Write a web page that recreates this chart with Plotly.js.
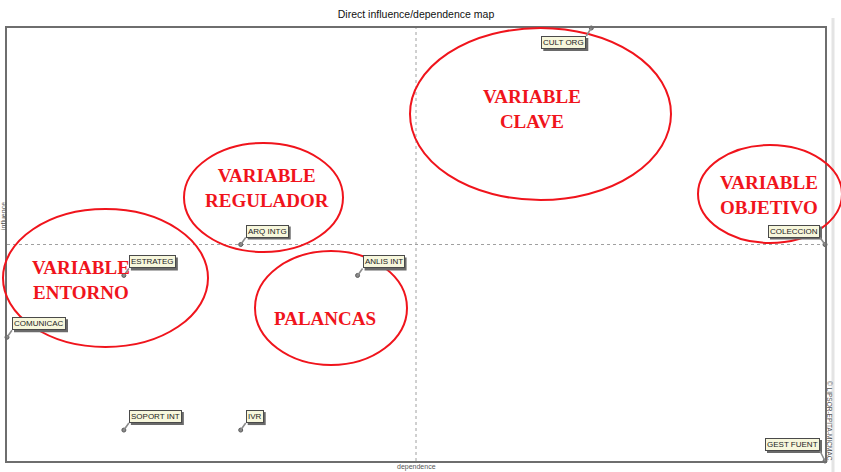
<!DOCTYPE html>
<html>
<head>
<meta charset="utf-8">
<script src="https://cdn.plot.ly/plotly-3.0.1.min.js"></script>
<style>html,body{margin:0;padding:0;background:#fff;}#chart{width:841px;height:472px;}</style>
</head>
<body>
<div id="chart"></div>
<script>
// Data (MICMAC direct influence/dependence map)
const variables  = ['CULT ORG','COLECCION','ARQ INTG','ESTRATEG','ANLIS INT','COMUNICAC','SOPORT INT','IVR','GEST FUENT'];
const dependence = [5, 7, 2, 1, 3, 0, 1, 2, 7];
const influence  = [14, 7, 7, 6, 6, 4, 1, 1, 0];
const zoneLabels = ['VARIABLE<br>CLAVE','VARIABLE<br>OBJETIVO','VARIABLE<br>REGULADOR','VARIABLE<br>ENTORNO','PALANCAS'];

const W = 841, H = 472;
const M = {l: 7, r: 16, t: 28, b: 11};
const PW = W - M.l - M.r, PH = H - M.t - M.b;
const px = v => (v - M.l) / PW;        // pixel -> paper x
const py = v => (H - M.b - v) / PH;    // pixel -> paper y

const xmin = Math.min(...dependence), xmax = Math.max(...dependence);
const ymin = Math.min(...influence),  ymax = Math.max(...influence);
const xmid = (xmin + xmax) / 2, ymid = (ymin + ymax) / 2;

const RED = '#f0141c';
const LABEL_FONT = {family: 'Liberation Sans, Arial', size: 8, color: '#222'};

const trace = {
  type: 'scatter', mode: 'markers',
  x: dependence, y: influence, text: variables,
  marker: {size: 4, color: '#8a8a8a', line: {width: 1, color: '#5a5a5a'}},
  cliponaxis: false, hoverinfo: 'text'
};

const placements = [];
const annotations = [];
variables.forEach((name, i) => {
  const x = dependence[i], y = influence[i];
  const left = (x === xmax || y === ymax);
  const below = (y === ymax);
  const ax = left ? -5 : 5;
  const ay = below ? 8 : (x === xmax && y === ymin ? -10 : -7);
  placements.push({x, y, ax, ay, left, below, idx: annotations.length, name});
  annotations.push({
    x, y, xref: 'x', yref: 'y', text: name, showarrow: true,
    arrowhead: 0, arrowwidth: 1.6, standoff: 0, ax, ay, arrowcolor: '#8c8c8c',
    xanchor: left ? 'right' : 'left', yanchor: below ? 'top' : 'bottom',
    font: LABEL_FONT, borderpad: 1, borderwidth: 1,
    bgcolor: '#f7f7dc', bordercolor: '#4a4a4a'
  });
});

// Zone labels
const zonePos = [[532,109],[769,195],[267,188],[81,280],[325,318]];
zoneLabels.forEach((t, i) => {
  annotations.push({
    xref: 'paper', yref: 'paper', x: px(zonePos[i][0]), y: py(zonePos[i][1]),
    text: '<b>' + t + '</b>', showarrow: false, xanchor: 'center', yanchor: 'middle',
    font: {family: 'Liberation Serif, Times New Roman, serif', size: 19, color: RED}
  });
});

// Axis titles & credit
annotations.push({xref:'paper', yref:'paper', x: px(416), y: py(467), text: 'dependence', showarrow:false,
  xanchor:'center', yanchor:'middle', font:{family:'Liberation Sans, Arial', size:7, color:'#555'}});
annotations.push({xref:'paper', yref:'paper', x: px(3), y: py(216), text: 'influence', showarrow:false, textangle:-90,
  xanchor:'center', yanchor:'middle', font:{family:'Liberation Sans, Arial', size:7, color:'#555'}});
annotations.push({xref:'paper', yref:'paper', x: px(830), y: py(421), text: '© LIPSOR-EPITA-MICMAC', showarrow:false, textangle:90,
  xanchor:'center', yanchor:'middle', font:{family:'Liberation Sans, Arial', size:6.5, color:'#555'}});

const ellipses = [[410,28,671,200],[698,145,842,243],[184,143,343,252],[3,209,208,347],[255,251,407,365]];
const shapes = [
  {type:'line', xref:'x', yref:'paper', x0:xmid, x1:xmid, y0:0, y1:1, line:{color:'#a0a0a0', width:1, dash:'dot'}, layer:'below'},
  {type:'line', xref:'paper', yref:'y', x0:0, x1:1, y0:ymid, y1:ymid, line:{color:'#a0a0a0', width:1, dash:'dot'}, layer:'below'},
  {type:'line', xref:'paper', yref:'paper', x0:px(833), x1:px(833), y0:py(472), y1:py(18), line:{color:'#e4e4e4', width:3}}
];
ellipses.forEach(e => shapes.push({
  type:'circle', xref:'paper', yref:'paper', x0:px(e[0]), x1:px(e[2]), y0:py(e[3]), y1:py(e[1]),
  line:{color:RED, width:2}
}));

const axisBase = {showgrid:false, zeroline:false, showticklabels:false, ticks:'',
  showline:true, mirror:true, linecolor:'#6e6e6e', linewidth:2, fixedrange:true};

const layout = {
  width: W, height: H, margin: M,
  paper_bgcolor: '#ffffff', plot_bgcolor: '#ffffff',
  title: {text: 'Direct influence/dependence map', x: px(416), xref:'paper', xanchor:'center',
          y: 1 - 14 / H, yref:'container', yanchor:'middle',
          font: {family: 'Liberation Sans, Arial', size: 10.5, color: '#111'}},
  xaxis: Object.assign({range: [xmin, xmax]}, axisBase),
  yaxis: Object.assign({range: [ymin, ymax]}, axisBase),
  showlegend: false, annotations, shapes
};

// label drop-shadows as pixel-sized rectangles behind each label box
function measure(text) {
  const c = document.createElement('canvas').getContext('2d');
  c.font = LABEL_FONT.size + 'px "Liberation Sans", Arial';
  return c.measureText(text).width;
}

Plotly.newPlot('chart', [trace], layout, {staticPlot: true, displayModeBar: false}).then(gd => {
  const full = gd._fullLayout.annotations || [];
  const shadows = placements.map(p => {
    const fa = full[p.idx] || {};
    const w = fa._xsize || (measure(p.name) + 4);
    const h = fa._ysize || 12;
    const xl = p.left ? p.ax - w : p.ax;            // box left (px, right positive)
    const yTop = p.below ? -p.ay : -p.ay + h;       // box top (px, up positive)
    return {
      type: 'rect', xref: 'x', yref: 'y', xsizemode: 'pixel', ysizemode: 'pixel',
      xanchor: p.x, yanchor: p.y,
      x0: xl + 2, x1: xl + w + 2, y0: yTop - h - 2, y1: yTop - 2,
      fillcolor: '#6a6a6a', line: {width: 0}, layer: 'above'
    };
  });
  return Plotly.relayout(gd, {shapes: shapes.concat(shadows)});
});
</script>
</body>
</html>
